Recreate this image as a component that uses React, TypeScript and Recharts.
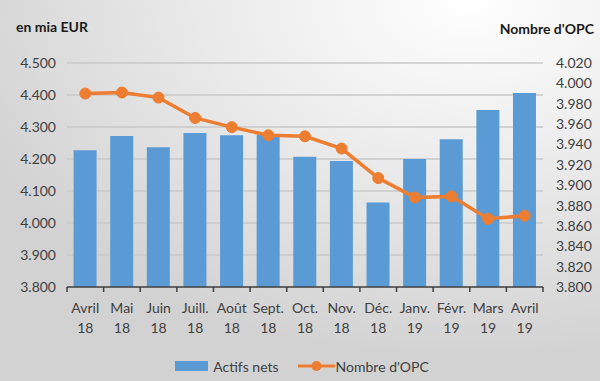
import React from 'react';
import { ComposedChart, Bar, Line, XAxis, YAxis, CartesianGrid, Legend } from 'recharts';

const months = ['Avril 18', 'Mai 18', 'Juin 18', 'Juill. 18', 'Août 18', 'Sept. 18', 'Oct. 18', 'Nov. 18', 'Déc. 18', 'Janv. 19', 'Févr. 19', 'Mars 19', 'Avril 19'];
const actifsNets = [4227, 4272, 4237, 4281, 4274, 4275, 4207, 4194, 4064, 4200, 4262, 4353, 4406];
const nombreOpc = [3990, 3991, 3986, 3966, 3957, 3949, 3948, 3936, 3907, 3888, 3889, 3867, 3870];
const leftTicks = [3800, 3900, 4000, 4100, 4200, 4300, 4400, 4500];
const rightTicks = [3800, 3820, 3840, 3860, 3880, 3900, 3920, 3940, 3960, 3980, 4000, 4020];
const boundaryTicks = [0, 1, 2, 3, 4, 5, 6, 7, 8, 9, 10, 11, 12, 13];

const data = months.map((m, i) => ({ idx: i + 0.5, month: m, actifs: actifsNets[i], opc: nombreOpc[i] }));

const BLUE = '#5B9BD5';
const ORANGE = '#ED7D31';
const FONT = 'Lato, "Open Sans", sans-serif';
const fmt = (v: number) => (v / 1000).toFixed(3);

function MonthTick({ x, y, payload }: any) {
  const [a, b] = String(payload.value).split(' ');
  return (
    <text x={x} y={y} textAnchor="middle" fill="#404040" fontSize={14} fontFamily={FONT}>
      <tspan x={x} dy={17}>{a}</tspan>
      <tspan x={x} dy={20}>{b}</tspan>
    </text>
  );
}

function LegendBox() {
  return (
    <div style={{ display: 'flex', justifyContent: 'center', alignItems: 'center', height: 24, fontFamily: FONT, fontSize: 14, color: '#404040', paddingLeft: 4 }}>
      <svg width={33} height={12}><rect x={0} y={1} width={33} height={10} fill={BLUE} /></svg>
      <span style={{ marginLeft: 5, marginRight: 19 }}>Actifs nets</span>
      <svg width={37} height={12}>
        <line x1={0} y1={6} x2={37} y2={6} stroke={ORANGE} strokeWidth={3} />
        <circle cx={18.5} cy={6} r={5} fill={ORANGE} />
      </svg>
      <span style={{ marginLeft: 1 }}>Nombre d'OPC</span>
    </div>
  );
}

export default function App() {
  return (
    <div style={{
      position: 'absolute', left: 0, top: 0, width: 600, height: 381, overflow: 'hidden',
      background: 'radial-gradient(ellipse 90% 95% at 78% 0%, #ffffff 0%, #ececec 45%, #d2d2d2 100%)',
    }}>
      <div style={{ position: 'absolute', left: 16, top: 18, fontFamily: FONT, fontWeight: 700, fontSize: 14, color: '#1a1a1a' }}>en mia EUR</div>
      <div style={{ position: 'absolute', right: 6, top: 20, fontFamily: FONT, fontWeight: 700, fontSize: 14, color: '#1a1a1a' }}>Nombre d'OPC</div>
      <ComposedChart width={600} height={381} data={data} margin={{ top: 63, right: 0, bottom: 3, left: 0 }} barCategoryGap="18%">
        <CartesianGrid vertical={false} stroke="#c8c8c8" strokeWidth={1.5} horizontalValues={leftTicks} xAxisId="bounds" yAxisId="left" />
        <XAxis xAxisId="bounds" type="number" dataKey="idx" domain={[0, 13]} ticks={boundaryTicks} height={1} interval={0}
          axisLine={{ stroke: '#404040', strokeWidth: 1.5 }} tickFormatter={() => ''} tickLine={{ stroke: '#404040', strokeWidth: 1.5 }} tickSize={5} />
        <XAxis xAxisId="months" dataKey="month" interval={0} height={66} tickLine={false} axisLine={false} tick={<MonthTick />} />
        <YAxis yAxisId="left" domain={[3800, 4500]} ticks={leftTicks} tickFormatter={fmt} width={67} interval={0}
          axisLine={false} tickLine={false} tickMargin={5} fontSize={14} fontFamily={FONT} tick={{ fill: '#404040' }} />
        <YAxis yAxisId="right" orientation="right" domain={[3800, 4020]} ticks={rightTicks} tickFormatter={fmt} width={57} interval={0}
          axisLine={false} tickLine={false} tickMargin={7} fontSize={14} fontFamily={FONT} tick={{ fill: '#404040' }} />
        <Legend verticalAlign="bottom" height={24} content={<LegendBox />} />
        <Bar xAxisId="months" yAxisId="left" dataKey="actifs" name="Actifs nets" fill={BLUE} isAnimationActive={false} />
        <Line xAxisId="months" yAxisId="right" dataKey="opc" name="Nombre d'OPC" stroke={ORANGE} strokeWidth={3.5}
          dot={{ r: 5.5, fill: ORANGE, stroke: ORANGE, strokeWidth: 1 }} isAnimationActive={false} />
      </ComposedChart>
    </div>
  );
}
